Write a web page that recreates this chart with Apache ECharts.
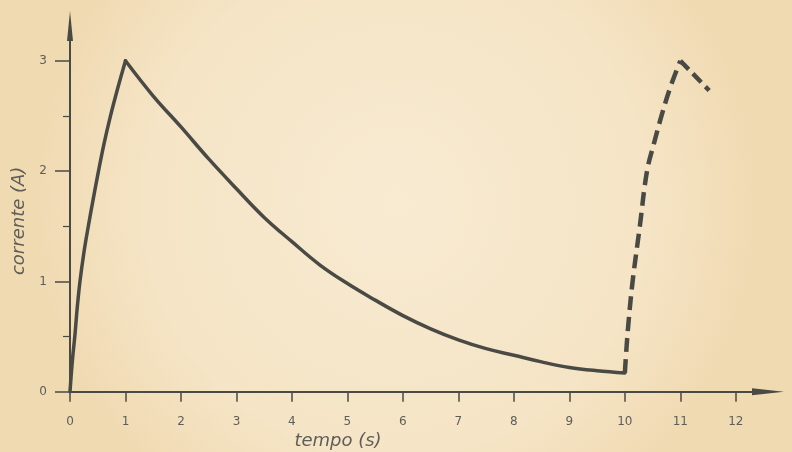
<!DOCTYPE html>
<html>
<head>
<meta charset="utf-8">
<script src="https://cdn.jsdelivr.net/npm/echarts@6/dist/echarts.min.js"></script>
<style>
html,body{margin:0;padding:0;}
#chart{width:792px;height:452px;}
</style>
</head>
<body>
<div id="chart"></div>
<script>
// Charging phase (solid)
const riseT = [0, 0.02, 0.05, 0.09, 0.13, 0.18, 0.25, 0.33, 0.42, 0.51, 0.61, 0.72, 0.86, 1.0];
const riseI = [0, 0.14, 0.32, 0.52, 0.76, 1.0, 1.26, 1.5, 1.75, 1.99, 2.24, 2.48, 2.75, 3.0];
// Discharge phase (solid)
const decayT = [1, 1.5, 2, 2.5, 3, 3.5, 4, 4.5, 5, 5.5, 6, 6.5, 7, 7.5, 8, 8.5, 9, 9.5, 10];
const decayI = [3.0, 2.68, 2.40, 2.11, 1.84, 1.58, 1.36, 1.15, 0.98, 0.83, 0.69, 0.57, 0.47, 0.39, 0.33, 0.27, 0.22, 0.19, 0.17];
// Next pulse (dashed)
const pulseT = [10, 10.03, 10.07, 10.14, 10.27, 10.4, 10.53, 10.66, 10.82, 11];
const pulseI = [0.17, 0.4, 0.65, 1.0, 1.5, 2.0, 2.26, 2.5, 2.76, 3.0];
const fallT = [11, 11.52];
const fallI = [3.0, 2.73];
// Ticks
const xTicks = [0,1,2,3,4,5,6,7,8,9,10,11,12];
const yTicks = [0,1,2,3];
const yMinorTicks = [0.5,1.5,2.5];

const pairs = (t, v) => t.map((x, i) => [x, v[i]]);
const ink = '#4a4a45';
const txt = '#5e5e58';

const chart = echarts.init(document.getElementById('chart'), null, {renderer:'canvas'});
const solid = {color: ink, width: 3.5, cap: 'round', join: 'round'};
chart.setOption({
  animation: false,
  backgroundColor: {
    type: 'radial', x: 0.5, y: 0.45, r: 0.8,
    colorStops: [{offset: 0, color: '#f8ebd2'}, {offset: 0.7, color: '#f5e4c5'}, {offset: 1, color: '#f0dab2'}]
  },
  grid: {left: 70, right: 24, top: 26, bottom: 60.3, containLabel: false, outerBoundsMode: 'none'},
  xAxis: {
    type: 'value', min: 0, max: 12.58,
    name: 'tempo (s)', nameLocation: 'middle', nameGap: 41,
    nameTextStyle: {color: txt, fontSize: 18, fontStyle: 'italic', fontFamily: 'DejaVu Sans', padding: [0, 162, 0, 0]},
    axisLine: {show: true, lineStyle: {color: ink, width: 2}, symbol: ['none', 'triangle'], symbolSize: [7, 32]},
    axisTick: {show: true, customValues: xTicks, length: 10, inside: false, lineStyle: {color: ink, width: 1.5}},
    axisLabel: {customValues: xTicks, color: txt, fontSize: 12, fontFamily: 'DejaVu Sans', margin: 24},
    splitLine: {show: false}
  },
  yAxis: [{
    type: 'value', min: 0, max: 3.315,
    name: 'corrente (A)', nameLocation: 'middle', nameGap: 40,
    nameTextStyle: {color: txt, fontSize: 18, fontStyle: 'italic', fontFamily: 'DejaVu Sans', padding: [0, 24, 0, 0]},
    axisLine: {show: true, lineStyle: {color: ink, width: 2}, symbol: ['none', 'triangle'], symbolSize: [6, 30]},
    axisTick: {show: true, customValues: yTicks, length: 15, lineStyle: {color: ink, width: 1.5}},
    axisLabel: {customValues: yTicks, color: txt, fontSize: 12, fontFamily: 'DejaVu Sans', margin: 23},
    splitLine: {show: false}
  }, {
    type: 'value', min: 0, max: 3.315, position: 'left',
    axisLine: {show: false},
    axisTick: {show: true, customValues: yMinorTicks, length: 7, lineStyle: {color: ink, width: 1.2}},
    axisLabel: {show: false},
    splitLine: {show: false}
  }],
  series: [
    {type: 'line', data: pairs(riseT, riseI), showSymbol: false, smooth: 0.4, lineStyle: solid, clip: false},
    {type: 'line', data: pairs(decayT, decayI), showSymbol: false, smooth: 0.4, lineStyle: solid, clip: false},
    {type: 'line', data: pairs(pulseT, pulseI), showSymbol: false, smooth: 0.4, clip: false,
      lineStyle: {color: ink, width: 4.5, type: [14, 7], cap: 'butt'}},
    {type: 'line', data: pairs(fallT, fallI), showSymbol: false, clip: false,
      lineStyle: {color: ink, width: 4.5, type: [12, 6], cap: 'butt'}}
  ]
});
</script>
</body>
</html>
